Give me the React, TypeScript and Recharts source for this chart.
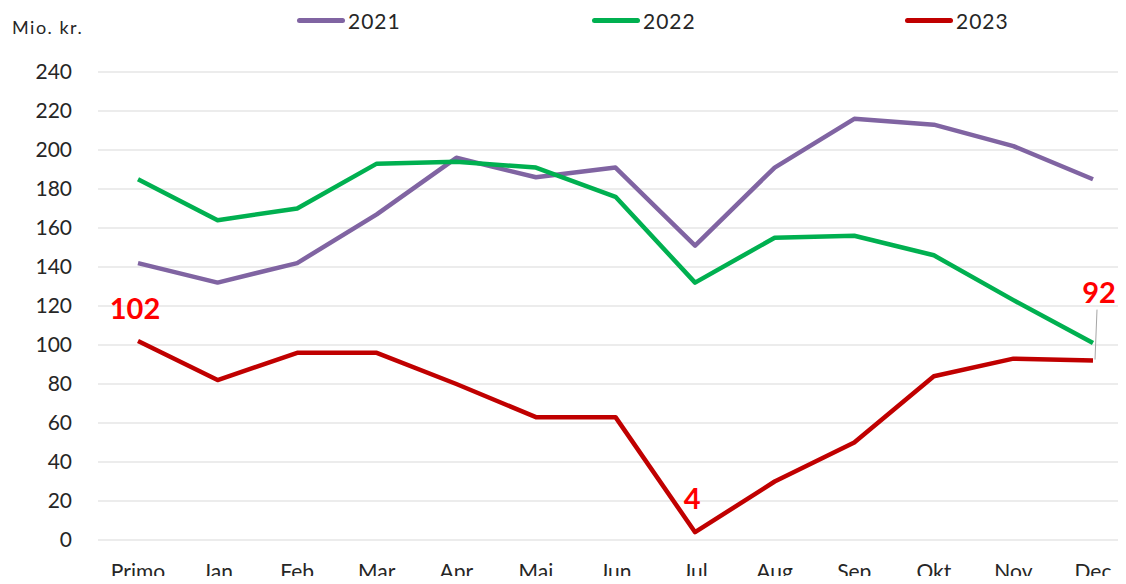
import React from 'react';
import { LineChart, Line, XAxis, YAxis, CartesianGrid, Legend, LabelList } from 'recharts';

const categories = ['Primo', 'Jan', 'Feb', 'Mar', 'Apr', 'Maj', 'Jun', 'Jul', 'Aug', 'Sep', 'Okt', 'Nov', 'Dec'];
const values2021 = [142, 132, 142, 167, 196, 186, 191, 151, 191, 216, 213, 202, 185];
const values2022 = [185, 164, 170, 193, 194, 191, 176, 132, 155, 156, 146, 123, 101];
const values2023 = [102, 82, 96, 96, 80, 63, 63, 4, 30, 50, 84, 93, 92];
const yTicks = [0, 20, 40, 60, 80, 100, 120, 140, 160, 180, 200, 220, 240];
const seriesNames = ['2021', '2022', '2023'];
const seriesKeys = ['y2021', 'y2022', 'y2023'];
const seriesColors = ['#8064A2', '#00B050', '#C00000'];
const labelledIndexes = [0, 7, 12];
const yUnit = 'Mio. kr.';

const data = categories.map((c, i) => ({
  name: c,
  y2021: values2021[i],
  y2022: values2022[i],
  y2023: values2023[i],
}));

const FONT = 'Lato, "Open Sans", sans-serif';
const TEXT = '#262626';

const legendLeft = [297, 592, 905];

const renderLegend = () => (
  <div style={{ position: 'relative', width: 1126, height: 44 }}>
    {seriesNames.map((n, i) => (
      <div key={n} style={{ position: 'absolute', left: legendLeft[i], top: 8, display: 'flex', alignItems: 'center', fontFamily: FONT, fontSize: 21, letterSpacing: 1, color: TEXT }}>
        <span style={{ display: 'inline-block', width: 48, height: 5, borderRadius: 3, background: seriesColors[i], marginRight: 3 }} />
        <span>{n}</span>
      </div>
    ))}
  </div>
);

const labelOffsets: Record<number, { dx: number; dy: number; leader?: boolean }> = {
  0: { dx: -3, dy: -34 },
  7: { dx: -3, dy: -35 },
  12: { dx: 6, dy: -69, leader: true },
};

const renderPointLabel = (props: any) => {
  const { x, y, value, index } = props;
  if (!labelledIndexes.includes(index)) return null;
  const o = labelOffsets[index];
  return (
    <g key={`lbl-${index}`}>
      {o.leader && <line x1={x + 4} y1={y - 51} x2={x + 2} y2={y - 1} stroke="#A6A6A6" strokeWidth={1} />}
      <text x={x + o.dx} y={y + o.dy} textAnchor="middle" dominantBaseline="central" fill="#FF0000" fontFamily={FONT} fontWeight={700} fontSize={29}>
        {value}
      </text>
    </g>
  );
};

export default function App() {
  return (
    <div style={{ margin: -8, position: 'relative', width: 1126, height: 584, background: '#fff', overflow: 'hidden' }}>
      <div style={{ position: 'absolute', left: 12, top: 16, fontFamily: FONT, fontSize: 18, letterSpacing: 1.5, color: TEXT, zIndex: 2 }}>{yUnit}</div>
      <LineChart width={1126} height={584} data={data} margin={{ top: 28, right: 0, bottom: 0, left: 8 }}>
        <CartesianGrid vertical={false} stroke="#D9D9D9" strokeWidth={1} />
        <XAxis
          dataKey="name"
          axisLine={false}
          tickLine={false}
          padding={{ left: 40, right: 33 }}
          height={44}
          tickMargin={18}
          tick={{ fontFamily: FONT, fontSize: 21, fill: TEXT }}
          interval={0}
        />
        <YAxis
          domain={[0, 240]}
          ticks={yTicks}
          axisLine={false}
          tickLine={false}
          width={90}
          tickMargin={20}
          tick={{ fontFamily: FONT, fontSize: 21, fill: TEXT }}
          interval={0}
        />
        <Legend verticalAlign="top" align="left" content={renderLegend} wrapperStyle={{ top: 0, left: 0 }} />
        {seriesKeys.map((k, i) => (
          <Line
            key={k}
            type="linear"
            dataKey={k}
            name={seriesNames[i]}
            stroke={seriesColors[i]}
            strokeWidth={4.5}
            dot={false}
            activeDot={false}
            isAnimationActive={false}
            strokeLinejoin="round"
          >
            {i === 2 && <LabelList dataKey={k} content={renderPointLabel} />}
          </Line>
        ))}
      </LineChart>
    </div>
  );
}
